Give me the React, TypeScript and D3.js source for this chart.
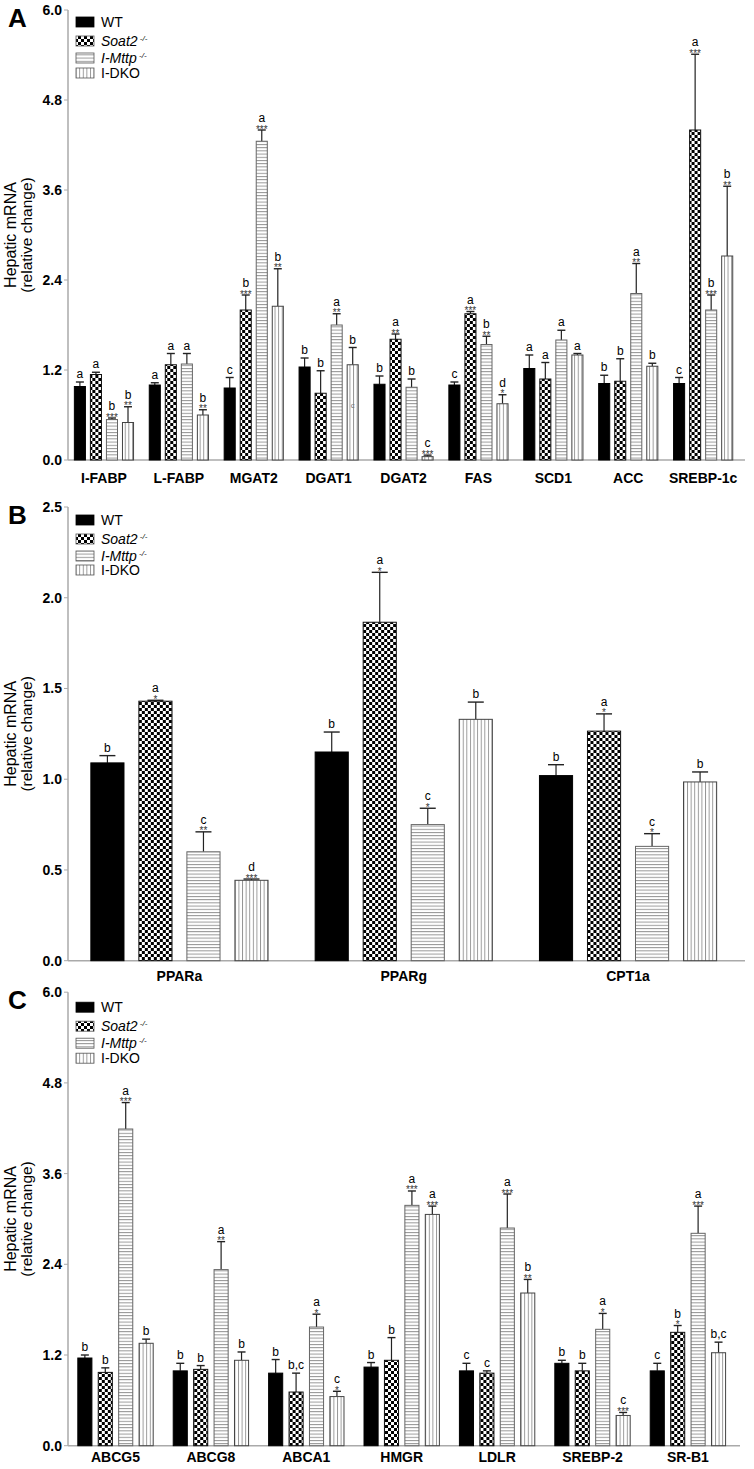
import React from "react";
import * as d3 from "d3";

const seriesNames = ["WT", "Soat2", "I-Mttp", "I-DKO"];

// Panel A
const catsA = ["I-FABP", "L-FABP", "MGAT2", "DGAT1", "DGAT2", "FAS", "SCD1", "ACC", "SREBP-1c"];
const wtA = [0.98, 1.0, 0.96, 1.24, 1.01, 1.0, 1.22, 1.02, 1.02];
const wtErrA = [1.04, 1.03, 1.1, 1.36, 1.12, 1.04, 1.4, 1.13, 1.1];
const soatA = [1.14, 1.27, 2.0, 0.89, 1.61, 1.95, 1.08, 1.05, 4.4];
const soatErrA = [1.17, 1.42, 2.2, 1.19, 1.68, 1.98, 1.3, 1.35, 5.41];
const mttpA = [0.54, 1.28, 4.25, 1.8, 0.97, 1.54, 1.6, 2.22, 2.0];
const mttpErrA = [0.56, 1.42, 4.4, 1.95, 1.08, 1.65, 1.73, 2.62, 2.2];
const dkoA = [0.5, 0.6, 2.05, 1.27, 0.045, 0.75, 1.4, 1.25, 2.72];
const dkoErrA = [0.71, 0.67, 2.55, 1.5, 0.065, 0.87, 1.42, 1.29, 3.65];
const lettersA = [
  ["a", "a", "b", "b"], ["a", "a", "a", "b"], ["c", "b", "a", "b"],
  ["b", "b", "a", "b"], ["b", "a", "b", "c"], ["c", "a", "b", "d"],
  ["a", "a", "a", "a"], ["b", "b", "a", "b"], ["c", "a", "b", "b"],
];
const starsA = [
  ["", "", "***", "**"], ["", "", "", "**"], ["", "***", "***", "**"],
  ["", "", "**", ""], ["", "**", "", "***"], ["", "***", "**", "*"],
  ["", "", "", ""], ["", "", "**", ""], ["", "***", "***", "**"],
];
const yTicksA = [0, 1.2, 2.4, 3.6, 4.8, 6.0];

// Panel B
const catsB = ["PPARa", "PPARg", "CPT1a"];
const wtB = [1.09, 1.15, 1.02];
const wtErrB = [1.13, 1.26, 1.08];
const soatB = [1.43, 1.865, 1.265];
const soatErrB = [1.435, 2.14, 1.36];
const mttpB = [0.6, 0.75, 0.63];
const mttpErrB = [0.71, 0.84, 0.7];
const dkoB = [0.443, 1.33, 0.985];
const dkoErrB = [0.45, 1.425, 1.04];
const lettersB = [["b", "a", "c", "d"], ["b", "a", "c", "b"], ["b", "a", "c", "b"]];
const starsB = [["", "*", "**", "***"], ["", "*", "*", ""], ["", "*", "*", ""]];
const yTicksB = [0, 0.5, 1.0, 1.5, 2.0, 2.5];

// Panel C
const catsC = ["ABCG5", "ABCG8", "ABCA1", "HMGR", "LDLR", "SREBP-2", "SR-B1"];
const wtC = [1.16, 0.99, 0.96, 1.04, 0.99, 1.09, 0.99];
const wtErrC = [1.2, 1.09, 1.14, 1.1, 1.09, 1.13, 1.09];
const soatC = [0.97, 1.01, 0.71, 1.13, 0.96, 0.99, 1.5];
const soatErrC = [1.03, 1.06, 0.96, 1.43, 0.99, 1.09, 1.59];
const mttpC = [4.19, 2.33, 1.57, 3.18, 2.88, 1.54, 2.81];
const mttpErrC = [4.54, 2.7, 1.74, 3.37, 3.33, 1.75, 3.17];
const dkoC = [1.355, 1.13, 0.65, 3.06, 2.02, 0.4, 1.23];
const dkoErrC = [1.41, 1.24, 0.72, 3.17, 2.2, 0.44, 1.37];
const lettersC = [
  ["b", "b", "a", "b"], ["b", "b", "a", "b"], ["b", "b,c", "a", "c"],
  ["b", "b", "a", "a"], ["c", "c", "a", "b"], ["b", "b", "a", "c"], ["c", "b", "a", "b,c"],
];
const starsC = [
  ["", "", "***", ""], ["", "", "**", ""], ["", "", "*", "*"],
  ["", "", "***", "***"], ["", "", "***", "**"], ["", "", "*", "***"], ["", "*", "***", ""],
];
const yTicksC = [0, 1.2, 2.4, 3.6, 4.8, 6.0];

const FONT = "'Liberation Sans', Arial, sans-serif";
const fills = ["#000", "url(#checker)", "url(#hlines)", "url(#vlines)"];
const strokes = ["#000", "#111", "#666", "#444"];

type PanelProps = {
  letter: string;
  cats: string[];
  vals: number[][];
  errs: number[][];
  letters: string[][];
  stars: string[][];
  ticks: number[];
  yMax: number;
  top: number;
  bottom: number;
  xEnd: number;
  rangeX: [number, number];
  labelDy: number;
  capW: number;
  legendOffsets: number[];
  tickFmt: (v: number) => string;
  extra?: React.ReactNode;
};

function Panel(p: PanelProps) {
  const y = d3.scaleLinear().domain([0, p.yMax]).range([p.bottom, p.top]);
  const x0 = d3.scaleBand<string>().domain(p.cats).range(p.rangeX).paddingInner(0.21).paddingOuter(0.105);
  const x1 = d3.scaleBand<string>().domain(seriesNames).range([0, x0.bandwidth()]).paddingInner(0.31).paddingOuter(0);
  const axisX = 68;
  const midY = (p.top + p.bottom) / 2;
  return (
    <g>
      <text x={8} y={p.top + 17} fontFamily={FONT} fontWeight="bold" fontSize={26}>{p.letter}</text>
      {/* y axis label */}
      <g transform={`translate(16, ${midY}) rotate(-90)`}>
        <text textAnchor="middle" fontFamily={FONT} fontSize={16}>Hepatic mRNA</text>
        <text y={16} textAnchor="middle" fontFamily={FONT} fontSize={15.5}>(relative change)</text>
      </g>
      {/* axes */}
      <line x1={axisX} x2={axisX} y1={p.top} y2={p.bottom} stroke="#aaa" strokeWidth={1.5} />
      <line x1={axisX} x2={p.xEnd} y1={p.bottom} y2={p.bottom} stroke="#aaa" strokeWidth={1.5} />
      {p.ticks.map((t) => (
        <g key={t}>
          <line x1={axisX - 4} x2={axisX} y1={y(t)} y2={y(t)} stroke="#aaa" strokeWidth={1} />
          <text x={axisX - 6} y={y(t) + 5} textAnchor="end" fontFamily={FONT} fontWeight="bold" fontSize={14}>{p.tickFmt(t)}</text>
        </g>
      ))}
      {p.cats.map((c) => (
        <text key={c} x={(x0(c) as number) + x0.bandwidth() / 2} y={p.bottom + p.labelDy} textAnchor="middle"
          fontFamily={FONT} fontWeight="bold" fontSize={14}>{c}</text>
      ))}
      {/* bars */}
      {p.cats.map((c, ci) => (
        <g key={c} transform={`translate(${x0(c)},0)`}>
          {seriesNames.map((s, si) => {
            const v = p.vals[si][ci];
            const e = p.errs[si][ci];
            const bx = x1(s) as number;
            const bw = x1.bandwidth();
            const cx = bx + bw / 2;
            const st = p.stars[ci][si];
            const lt = p.letters[ci][si];
            const errY = y(e);
            return (
              <g key={s}>
                <line x1={cx} x2={cx} y1={y(v)} y2={errY} stroke="#222" strokeWidth={1.2} />
                <line x1={cx - p.capW / 2} x2={cx + p.capW / 2} y1={errY} y2={errY} stroke="#222" strokeWidth={1.4} />
                <rect x={bx} y={y(v)} width={bw} height={p.bottom - y(v)} fill={fills[si]} stroke={strokes[si]} strokeWidth={1} />
                {st && (
                  <text x={cx} y={errY + 2.5} textAnchor="middle" fontFamily={FONT} fontSize={10} fill="#333">{st}</text>
                )}
                <text x={cx} y={st ? errY - 8 : errY - 4} textAnchor="middle" fontFamily={FONT} fontSize={12} fill="#000">{lt}</text>
              </g>
            );
          })}
        </g>
      ))}
      {p.extra}
      {/* legend */}
      {seriesNames.map((s, si) => {
        const ly = p.top + p.legendOffsets[si];
        return (
          <g key={s}>
            <rect x={76} y={ly - 5} width={18} height={10} fill={fills[si]} stroke={si === 0 ? "#000" : "#555"} strokeWidth={0.8} />
            {si === 0 || si === 3 ? (
              <text x={101} y={ly + 5} fontFamily={FONT} fontSize={14}>{s}</text>
            ) : (
              <text x={101} y={ly + 5} fontFamily={FONT} fontSize={14} fontStyle="italic">
                {s}
                <tspan fontSize={8} dy={-5} fontStyle="italic">{" -/-"}</tspan>
              </text>
            )}
          </g>
        );
      })}
    </g>
  );
}

export default function App() {
  const fmt1 = (v: number) => v.toFixed(1);
  const yA = d3.scaleLinear().domain([0, 6]).range([460, 10]);
  const xA = d3.scaleBand<string>().domain(catsA).range([66.5, 740.6]).paddingInner(0.21).paddingOuter(0.105);
  const xA1 = d3.scaleBand<string>().domain(seriesNames).range([0, xA.bandwidth()]).paddingInner(0.31);
  return (
    <svg width={754} height={1469} style={{ position: "absolute", left: 0, top: 0, background: "#fff" }}>
      <defs>
        <pattern id="checker" patternUnits="userSpaceOnUse" width={6} height={6}>
          <rect width={6} height={6} fill="#fff" />
          <rect x={0} y={0} width={3} height={3} fill="#000" />
          <rect x={3} y={3} width={3} height={3} fill="#000" />
        </pattern>
        <pattern id="hlines" patternUnits="userSpaceOnUse" width={4} height={3.2}>
          <rect width={4} height={3.2} fill="#fff" />
          <line x1={0} x2={4} y1={0.5} y2={0.5} stroke="#8a8a8a" strokeWidth={0.9} />
        </pattern>
        <pattern id="vlines" patternUnits="userSpaceOnUse" width={3.6} height={4}>
          <rect width={3.6} height={4} fill="#fff" />
          <line x1={0.5} x2={0.5} y1={0} y2={4} stroke="#8a8a8a" strokeWidth={0.9} />
        </pattern>
      </defs>
      <Panel letter="A" cats={catsA} vals={[wtA, soatA, mttpA, dkoA]} errs={[wtErrA, soatErrA, mttpErrA, dkoErrA]}
        letters={lettersA} stars={starsA} ticks={yTicksA} yMax={6} top={10} bottom={460} xEnd={745}
        rangeX={[66.5, 740.6]} labelDy={23} capW={8} legendOffsets={[12, 31, 48, 63]} tickFmt={fmt1}
        extra={<text x={(xA("DGAT1") as number) + (xA1("I-DKO") as number) + xA1.bandwidth() / 2} y={yA(0.7)}
          textAnchor="middle" fontFamily={FONT} fontSize={8} fill="#777">c</text>} />
      <Panel letter="B" cats={catsB} vals={[wtB, soatB, mttpB, dkoB]} errs={[wtErrB, soatErrB, mttpErrB, dkoErrB]}
        letters={lettersB} stars={starsB} ticks={yTicksB} yMax={2.5} top={507} bottom={960.7} xEnd={745}
        rangeX={[67.3, 740.2]} labelDy={20} capW={16} legendOffsets={[13, 32, 49, 63]} tickFmt={fmt1} />
      <Panel letter="C" cats={catsC} vals={[wtC, soatC, mttpC, dkoC]} errs={[wtErrC, soatErrC, mttpErrC, dkoErrC]}
        letters={lettersC} stars={starsC} ticks={yTicksC} yMax={6} top={992.2} bottom={1445.7} xEnd={740}
        rangeX={[67.8, 735.6]} labelDy={16} capW={8} legendOffsets={[15, 34, 51, 66]} tickFmt={fmt1} />
    </svg>
  );
}
